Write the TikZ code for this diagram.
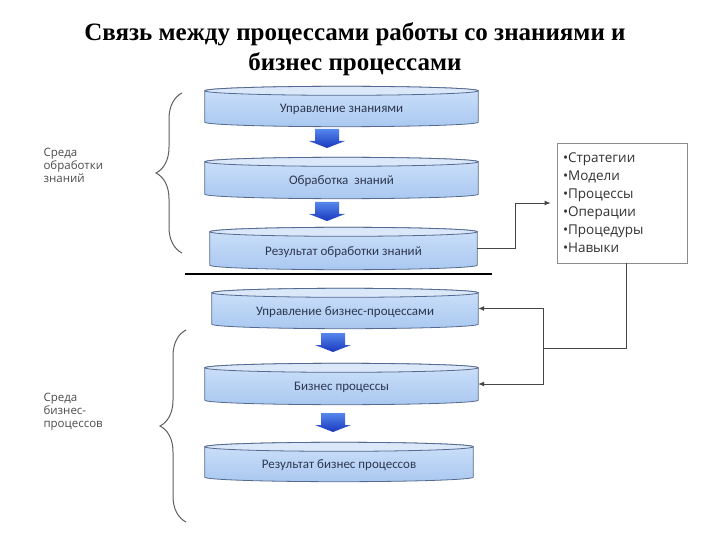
\documentclass[tikz,border=0pt]{standalone}
\usepackage{fontspec}
\setmainfont{Liberation Serif}
\newfontfamily\labf{Carlito}
\newfontfamily\boxf{Open Sans}
\usetikzlibrary{arrows.meta,calc,decorations.pathreplacing,backgrounds}
\definecolor{diskline}{RGB}{85,105,145}
\definecolor{disktopc}{RGB}{218,232,250}
\definecolor{diskhi}{RGB}{205,225,250}
\definecolor{disklo}{RGB}{170,200,240}
\definecolor{disktext}{RGB}{45,55,80}
\definecolor{arrtop}{RGB}{85,135,235}
\definecolor{arrbot}{RGB}{25,55,190}
\definecolor{connc}{RGB}{70,70,70}
\definecolor{bracec}{RGB}{95,95,95}
\newcommand\dtext[1]{\raisebox{-6.5pt}[0pt][0pt]{#1}}
\tikzset{
  disk/.style={rectangle,inner sep=0pt,font=\labf\fontsize{13}{15}\selectfont,text=disktext},
  conn/.style={draw=connc,line width=0.9pt},
  connarr/.style={conn,-{Latex[length=6pt,width=5pt]}},
  grouplabel/.style={align=left,anchor=west,font=\boxf\fontsize{11.5}{13}\selectfont,text=black!70},
  bracestyle/.style={draw=bracec,line width=1pt,decorate,decoration={brace,amplitude=26pt}},
}
\newcommand\drawdisk[1]{%
  \path[draw=diskline,line width=0.8pt,top color=diskhi,bottom color=disklo]
    let \p1=(#1.north west), \p2=(#1.south east), \n1={(\x2-\x1)/2} in
    (\p1) -- (\x1,\y2) arc[start angle=180,end angle=360,x radius=\n1,y radius=4.5pt]
    -- (\x2,\y1) arc[start angle=0,end angle=180,x radius=\n1,y radius=4.5pt] -- cycle;
  \path[draw=diskline,line width=0.8pt,fill=disktopc]
    let \p1=(#1.north west), \p2=(#1.north east), \n1={(\x2-\x1)/2} in
    ($(\p1)!0.5!(\p2)$) ellipse[x radius=\n1,y radius=4.5pt];
}
\newcommand\blockarr[2]{%
  \shade[top color=arrtop,bottom color=arrbot]
    (#1-12,#2) -- (#1+12,#2) -- (#1+12,#2+12) -- (#1+18,#2+12) -- (#1,#2+19)
    -- (#1-18,#2+12) -- (#1-12,#2+12) -- cycle;
}
\begin{document}
\begin{tikzpicture}[x=1pt,y=-1pt]
\useasboundingbox (0,0) rectangle (720,540);
% title
\node[font=\bfseries\fontsize{25}{30}\selectfont,align=center] (title) at (355,49)
  {Связь между процессами работы со знаниями и\\бизнес процессами};
% disks
\node[disk,minimum width=273pt,minimum height=31pt] (d1) at (341.5,106.5) {\dtext{Управление знаниями}};
\node[disk,minimum width=273pt,minimum height=32pt] (d2) at (341.5,178) {\dtext{Обработка \ знаний}};
\node[disk,minimum width=267pt,minimum height=33pt] (d3) at (343.5,248.5) {\dtext{Результат обработки знаний}};
\node[disk,minimum width=266pt,minimum height=31pt] (d4) at (345,308.5) {\dtext{Управление бизнес-процессами}};
\node[disk,minimum width=273pt,minimum height=32pt] (d5) at (341.5,384) {\dtext{Бизнес процессы}};
\node[disk,minimum width=268pt,minimum height=30pt] (d6) at (339,462) {\dtext{Результат бизнес процессов}};
\begin{scope}[on background layer]
  \fill[white] (0,0) rectangle (720,540);
  \drawdisk{d1}\drawdisk{d2}\drawdisk{d3}\drawdisk{d4}\drawdisk{d5}\drawdisk{d6}
\end{scope}
% block arrows
\blockarr{327}{129}
\blockarr{327}{202}
\blockarr{333}{333}
\blockarr{333}{413}
% separator
\coordinate (s1) at (185,274);
\coordinate (s2) at (492,274);
\draw[line width=2.5pt] (s1) -- (s2);
% right box
\node[draw=black!45,line width=0.8pt,minimum width=130pt,minimum height=120pt,
  text width=118pt,inner xsep=6pt,align=left,
  font=\boxf\fontsize{13.5}{18}\selectfont,text=black!80] (box) at (622,203)
  {•Стратегии\\•Модели\\•Процессы\\•Операции\\•Процедуры\\•Навыки};
% connectors
\draw[connarr,shorten >=6pt] (d3.east) -- ++(38,0) |- (box.west);
\coordinate (j) at (543,348);
\draw[conn] ([xshift=4pt]box.south) |- (j);
\draw[connarr] (j) |- (d4.east);
\draw[connarr] (j) |- (d5.east);
% braces and labels
\coordinate (b1a) at (182,253);
\coordinate (b1b) at (182,93);
\draw[bracestyle] (b1a) -- (b1b);
\coordinate (b2a) at (186,522);
\coordinate (b2b) at (186,330);
\draw[bracestyle] (b2a) -- (b2b);
\node[grouplabel] (g1) at (40,165) {Среда\\обработки\\знаний};
\node[grouplabel] (g2) at (40,412) {Среда\\бизнес-\\процессов};
\end{tikzpicture}
\end{document}
